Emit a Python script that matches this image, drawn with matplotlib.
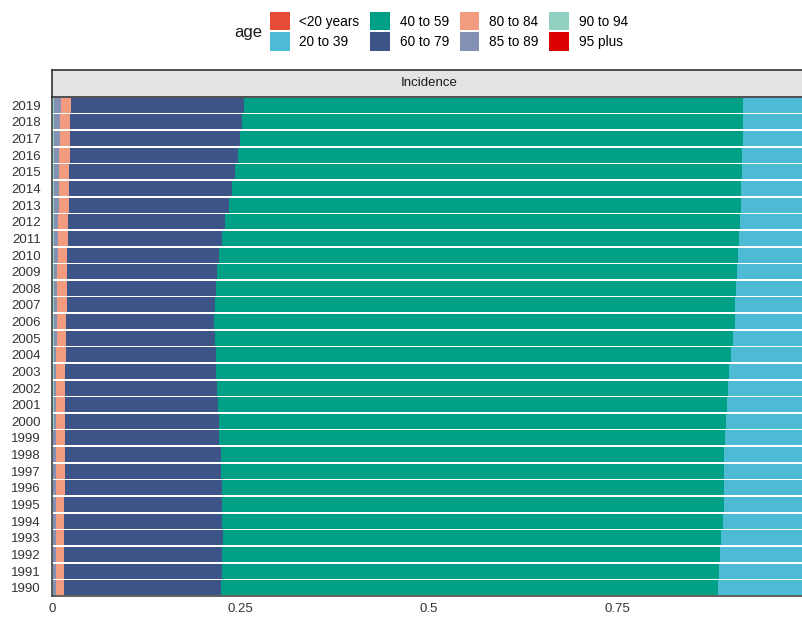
import matplotlib
matplotlib.use("Agg")
import matplotlib.pyplot as plt
from matplotlib.patches import Patch
import numpy as np

plt.rcParams['font.family'] = ['Liberation Sans', 'DejaVu Sans']

years = list(range(1990, 2020))
age_groups = ["<20 years", "20 to 39", "40 to 59", "60 to 79",
              "80 to 84", "85 to 89", "90 to 94", "95 plus"]
colors = ["#E64B35", "#4DBBD5", "#00A087", "#3C5488",
          "#F39B7F", "#8491B4", "#91D1C2", "#DC0000"]

# share of incidence per age group, 1990 -> 2019
under20 = [0.003] * 30
age20_39 = [0.1133, 0.1124, 0.1111, 0.1093, 0.1071, 0.1061, 0.1064, 0.1058, 0.1058, 0.1044,
            0.1031, 0.1018, 0.1004, 0.0991, 0.0965, 0.0934, 0.0916, 0.0912, 0.0898, 0.0889,
            0.0872, 0.0859, 0.0845, 0.0836, 0.0832, 0.0819, 0.0815, 0.0806, 0.0806, 0.0806]
age40_59 = [0.6600, 0.6591, 0.6604, 0.6605, 0.6640, 0.6654, 0.6655, 0.6671, 0.6675, 0.6711,
            0.6724, 0.6754, 0.6774, 0.6804, 0.6830, 0.6878, 0.6901, 0.6900, 0.6901, 0.6889,
            0.6883, 0.6856, 0.6831, 0.6790, 0.6751, 0.6720, 0.6688, 0.6671, 0.6648, 0.6614]
age60_79 = [0.2078, 0.2096, 0.2096, 0.2109, 0.2096, 0.2092, 0.2083, 0.2073, 0.2069, 0.2043,
            0.2043, 0.2026, 0.2016, 0.1999, 0.1993, 0.1972, 0.1963, 0.1963, 0.1976, 0.1993,
            0.2012, 0.2047, 0.2078, 0.2123, 0.2162, 0.2202, 0.2232, 0.2254, 0.2273, 0.2298]
age80_84 = [0.0106, 0.0106, 0.0106, 0.0110, 0.0110, 0.0110, 0.0115, 0.0115, 0.0115, 0.0119,
            0.0115, 0.0115, 0.0119, 0.0119, 0.0125, 0.0124, 0.0124, 0.0129, 0.0125, 0.0129,
            0.0127, 0.0132, 0.0132, 0.0132, 0.0132, 0.0132, 0.0138, 0.0133, 0.0133, 0.0137]
age85_89 = [0.0034, 0.0034, 0.0034, 0.0034, 0.0034, 0.0034, 0.0034, 0.0034, 0.0034, 0.0034,
            0.0036, 0.0036, 0.0036, 0.0036, 0.0036, 0.0041, 0.0045, 0.0045, 0.0049, 0.0049,
            0.0055, 0.0055, 0.0060, 0.0065, 0.0069, 0.0073, 0.0070, 0.0079, 0.0083, 0.0088]
age90_94 = [0.0016] * 10 + [0.0018] * 12 + [0.0021] * 4 + [0.0024] * 4
age95plus = [0.0003] * 30

series = [under20, age20_39, age40_59, age60_79, age80_84, age85_89, age90_94, age95plus]
vals = np.array(series)
vals = vals / vals.sum(axis=0)  # position = "fill"

fig = plt.figure(figsize=(8.03, 6.17), dpi=100)
left = 52 / 803
width = 754 / 803
ax = fig.add_axes([left, 1 - 596 / 617, width, 499 / 617])

y = np.arange(len(years))
# stack from the left: 95 plus first, <20 years last
cum = np.zeros(len(years))
for i in range(len(age_groups) - 1, -1, -1):
    ax.barh(y, vals[i], left=cum, height=0.9, color=colors[i], linewidth=0)
    cum = cum + vals[i]

ax.set_xlim(0, 1)
ax.set_ylim(-0.5, len(years) - 0.5)
ax.set_yticks(y)
ax.set_yticklabels([str(v) for v in years])
ax.set_xticks([0, 0.25, 0.5, 0.75])
ax.set_xticklabels(["0", "0.25", "0.5", "0.75"])
ax.tick_params(length=0, labelsize=9.5, labelcolor="#333333")
ax.tick_params(axis="y", pad=8)
ax.tick_params(axis="x", pad=5)
for s in ["top", "right"]:
    ax.spines[s].set_visible(False)
for s in ["left", "bottom"]:
    ax.spines[s].set_color("#444444")
    ax.spines[s].set_linewidth(1.2)

# facet strip
sax = fig.add_axes([left, 1 - 97 / 617, width, 27 / 617])
sax.set_facecolor("#e3e3e3")
sax.set_xticks([])
sax.set_yticks([])
for s in sax.spines.values():
    s.set_color("#333333")
    s.set_linewidth(1.2)
sax.text(0.5, 0.5, "Incidence", ha="center", va="center", fontsize=9.5, color="#1a1a1a",
         transform=sax.transAxes)

handles = [Patch(facecolor=c, edgecolor="none") for c in colors]
fig.legend(handles, age_groups, loc="center", bbox_to_anchor=(0.559, 0.949), ncol=4,
           frameon=False, fontsize=9.8, handlelength=1.45, handleheight=1.7,
           labelspacing=0.15, columnspacing=0.8, handletextpad=0.7, borderpad=0)
fig.text(262 / 803, 1 - 32 / 617, "age", ha="right", va="center", fontsize=12, color="#1a1a1a")

plt.savefig("out.png", dpi=100)
plt.close()
